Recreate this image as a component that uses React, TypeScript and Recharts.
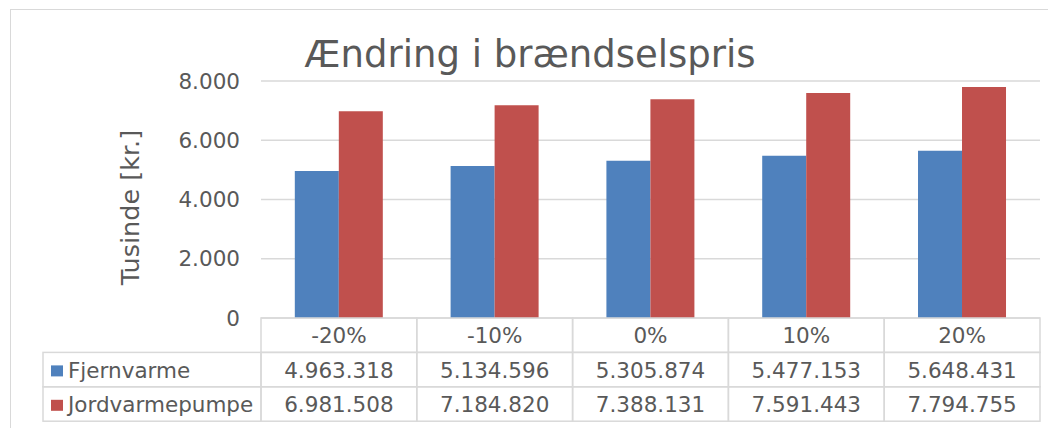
import React from "react";
import { BarChart, Bar, XAxis, YAxis, CartesianGrid, Label, Customized } from "recharts";

const categories = ["-20%", "-10%", "0%", "10%", "20%"];
const fjernvarme = [4963.318, 5134.596, 5305.874, 5477.153, 5648.431];
const jordvarmepumpe = [6981.508, 7184.82, 7388.131, 7591.443, 7794.755];
const fjernvarmeLabels = ["4.963.318", "5.134.596", "5.305.874", "5.477.153", "5.648.431"];
const jordvarmeLabels = ["6.981.508", "7.184.820", "7.388.131", "7.591.443", "7.794.755"];
const yTicks = [0, 2000, 4000, 6000, 8000];

const W = 1048;
const H = 428;
const LEFT = 261;
const RIGHT = 8;
const TOP = 81;
const AXIS_H = 110;
const ROW_H = 34.4;
const LEGEND_X = 43;
const FONT = "'DejaVu Sans', Verdana, sans-serif";
const TEXT = "#595959";
const LINE = "#d9d9d9";
const BLUE = "#4f81bd";
const RED = "#c0504d";

const data = categories.map((c, i) => ({
  name: c,
  fjernvarme: fjernvarme[i],
  jordvarmepumpe: jordvarmepumpe[i],
}));

const series = [
  { key: "fjernvarme", name: "Fjernvarme", color: BLUE, labels: fjernvarmeLabels },
  { key: "jordvarmepumpe", name: "Jordvarmepumpe", color: RED, labels: jordvarmeLabels },
];

const fmt = (v: number) => v.toLocaleString("de-DE");

function TableTick(props: any) {
  const { x, y, payload, index } = props;
  const bw = (W - LEFT - RIGHT) / categories.length;
  const x0 = x - bw / 2;
  const cells: React.ReactNode[] = [];
  cells.push(
    <rect key="h" x={x0} y={y} width={bw} height={ROW_H} fill="none" stroke={LINE} strokeWidth={1.5} />
  );
  cells.push(
    <text key="ht" x={x} y={y + ROW_H - 9} textAnchor="middle" fill={TEXT} fontSize={21.5} fontFamily={FONT}>
      {payload.value}
    </text>
  );
  series.forEach((s, r) => {
    const ry = y + ROW_H * (r + 1);
    cells.push(
      <rect key={"c" + r} x={x0} y={ry} width={bw} height={ROW_H} fill="none" stroke={LINE} strokeWidth={1.5} />
    );
    cells.push(
      <text key={"t" + r} x={x} y={ry + ROW_H - 9} textAnchor="middle" fill={TEXT} fontSize={21.5} fontFamily={FONT}>
        {s.labels[index]}
      </text>
    );
    if (index === 0) {
      cells.push(
        <rect key={"l" + r} x={LEGEND_X} y={ry} width={x0 - LEGEND_X} height={ROW_H} fill="none" stroke={LINE} strokeWidth={1.5} />
      );
      cells.push(<rect key={"m" + r} x={LEGEND_X + 8} y={ry + 13} width={12} height={11} fill={s.color} />);
      cells.push(
        <text key={"n" + r} x={LEGEND_X + 25} y={ry + ROW_H - 9} fill={TEXT} fontSize={21.5} fontFamily={FONT}>
          {s.name}
        </text>
      );
    }
  });
  return <g>{cells}</g>;
}

function YLabel(props: any) {
  const vb = props.viewBox;
  const cx = vb.x + 130;
  const cy = vb.y + vb.height / 2 + 8;
  return (
    <text x={cx} y={cy} transform={`rotate(-90 ${cx} ${cy})`} textAnchor="middle" dominantBaseline="central"
      fill={TEXT} fontSize={25.5} fontFamily={FONT}>
      Tusinde [kr.]
    </text>
  );
}

function Title() {
  return (
    <text x={530} y={67} textAnchor="middle" fill={TEXT} fontSize={37} fontFamily={FONT}>
      Ændring i brændselspris
    </text>
  );
}

export default function App() {
  return (
    <div style={{ position: "absolute", left: 0, top: 0, width: W, height: H, background: "#fff", overflow: "hidden" }}>
      <div style={{ position: "absolute", left: 10, top: 9, width: 1100, height: 440, border: `1.5px solid ${LINE}` }} />
      <BarChart
        width={W}
        height={H}
        data={data}
        margin={{ top: TOP, right: RIGHT, left: 0, bottom: 0 }}
        barGap={0}
        barCategoryGap="21.7%"
        style={{ position: "absolute", left: 0, top: 0 }}
      >
        <CartesianGrid vertical={false} stroke={LINE} strokeWidth={1.5} />
        <XAxis dataKey="name" height={AXIS_H} axisLine={false} tickLine={false} tickSize={0} tickMargin={0}
          interval={0} tick={<TableTick />} />
        <YAxis width={LEFT} domain={[0, 8000]} ticks={yTicks} axisLine={false} tickLine={false} tickSize={0}
          tickMargin={21} tickFormatter={fmt} tick={{ fill: TEXT, fontSize: 21.5, fontFamily: FONT }}>
          <Label content={<YLabel />} />
        </YAxis>
        {series.map((s) => (
          <Bar key={s.key} dataKey={s.key} name={s.name} fill={s.color} isAnimationActive={false} />
        ))}
        <Customized component={<Title />} />
      </BarChart>
    </div>
  );
}
